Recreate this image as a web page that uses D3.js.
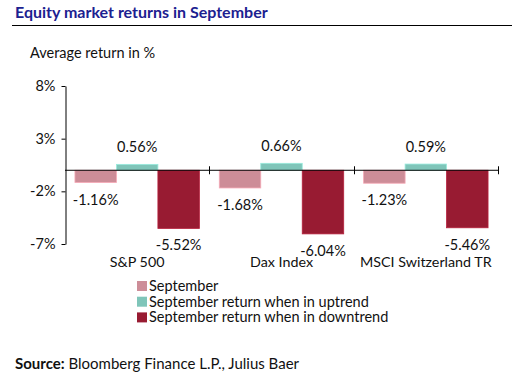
<!DOCTYPE html>
<html><head><meta charset="utf-8">
<script src="https://cdn.jsdelivr.net/npm/d3@7"></script>
<style>
body{margin:0;background:#fff;}
svg{display:block;font-family:Lato, "Open Sans", sans-serif;}
</style></head>
<body><svg id="c" width="516" height="378"></svg>
<script>
const categories = ["S&P 500", "Dax Index", "MSCI Switzerland TR"];
const seriesNames = ["September", "September return when in uptrend", "September return when in downtrend"];
const september = [-1.16, -1.68, -1.23];
const uptrend = [0.56, 0.66, 0.59];
const downtrend = [-5.52, -6.04, -5.46];
const yTicks = [8, 3, -2, -7];
const colors = ["#cd8d98", "#7fc5b9", "#981b32"];

const series = [september, uptrend, downtrend];
const svg = d3.select("#c");
const fmt = v => d3.format(".2f")(v).replace("\u2212", "-") + "%";

// Title
svg.append("text").attr("x", 15).attr("y", 18).attr("font-size", 16).attr("font-weight", 700)
  .attr("fill", "#1c2190").text("Equity market returns in September");
svg.append("line").attr("x1", 12).attr("x2", 512).attr("y1", 25.5).attr("y2", 25.5)
  .attr("stroke", "#000").attr("stroke-width", 1);
svg.append("text").attr("x", 30).attr("y", 58).attr("font-size", 14.5).attr("fill", "#111")
  .text("Average return in %");

const y = d3.scaleLinear().domain([-7, 8]).range([244, 86]);
const x0 = d3.scaleBand().domain(categories).range([65, 498]).paddingInner(0).paddingOuter(0);
const x1 = d3.scaleBand().domain([0, 1, 2]).range([0, x0.bandwidth()]).paddingOuter(0.24).paddingInner(0);

// Y axis
const yAxis = d3.axisLeft(y).tickValues(yTicks).tickFormat(d => String(d) + "%").tickSize(4).tickSizeOuter(0);
const gy = svg.append("g").attr("transform", "translate(65.5,0)").call(yAxis);
gy.select(".domain").attr("stroke", "#000");
gy.selectAll(".tick line").attr("stroke", "#000");
gy.selectAll(".tick text").attr("font-size", 14.5).attr("fill", "#111").attr("font-family", "Lato").attr("x", -10);

// Bars
categories.forEach((c, i) => {
  series.forEach((s, j) => {
    const v = s[i];
    const bx = x0(c) + x1(j);
    svg.append("rect").attr("x", bx).attr("width", x1.bandwidth())
      .attr("y", y(Math.max(0, v))).attr("height", Math.abs(y(v) - y(0)))
      .attr("fill", colors[j]).attr("stroke", d3.color(colors[j]).brighter(0.5)).attr("stroke-width", 0.8);
    const cx = bx + x1.bandwidth() / 2;
    const ly = v >= 0 ? y(v) - 17 : y(v) + 17;
    svg.append("text").attr("x", cx).attr("y", ly).attr("dy", "0.35em").attr("text-anchor", "middle")
      .attr("font-size", 14.5).attr("fill", "#111").text(fmt(v));
  });
});

// Zero axis with category ticks
svg.append("line").attr("x1", 65).attr("x2", 498).attr("y1", y(0)).attr("y2", y(0)).attr("stroke", "#000");
const bounds = [x0(categories[1]), x0(categories[2]), x0(categories[2]) + x0.bandwidth()];
svg.selectAll(".ct").data(bounds).enter().append("line")
  .attr("x1", d => Math.round(d) + 0.5).attr("x2", d => Math.round(d) + 0.5)
  .attr("y1", y(0) - 4).attr("y2", y(0) + 4).attr("stroke", "#000");

// Category labels
svg.selectAll(".cl").data(categories).enter().append("text")
  .attr("x", d => x0(d) + x0.bandwidth() / 2).attr("y", 267).attr("text-anchor", "middle")
  .attr("font-size", 14.3).attr("fill", "#111").text(d => d);

// Legend
const lg = svg.append("g").attr("transform", "translate(137,281)");
seriesNames.forEach((n, i) => {
  lg.append("rect").attr("x", 0).attr("y", i * 15.7).attr("width", 10).attr("height", 10).attr("fill", colors[i]);
  lg.append("text").attr("x", 12).attr("y", i * 15.7 + 5).attr("dy", "0.35em").attr("font-size", 14.5)
    .attr("fill", "#111").text(n);
});

// Source
const src = svg.append("text").attr("x", 15).attr("y", 369).attr("font-size", 15).attr("fill", "#111");
src.append("tspan").attr("font-weight", 700).text("Source:");
src.append("tspan").text(" Bloomberg Finance L.P., Julius Baer");
</script></body></html>
